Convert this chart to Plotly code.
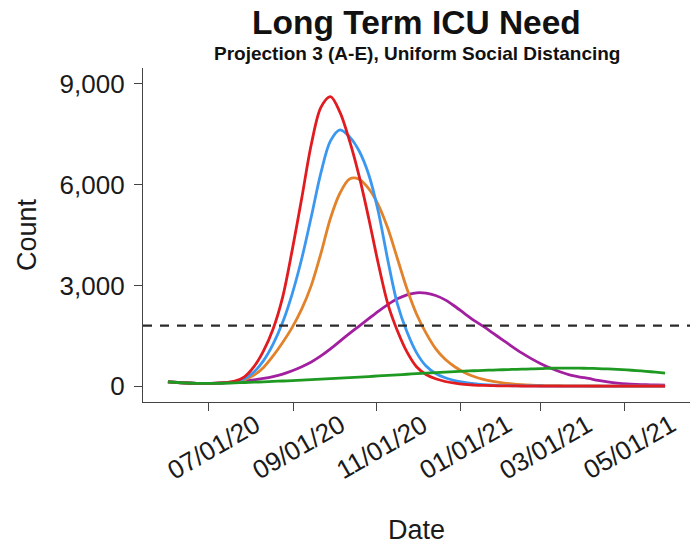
import pandas as pd
import plotly.graph_objects as go

# Weekly projection dates (Mondays), June 2020 to end of May 2021
dates = pd.date_range("2020-06-01", periods=53, freq="7D")

proj_a = [130, 110, 95, 85, 82, 88, 105, 150, 280, 580, 1050, 1700, 2650, 4050,
          5600, 7200, 8300, 8620, 8150, 7300, 6250, 5000, 3650, 2450, 1650, 1020,
          580, 350, 220, 140, 90, 55, 35, 22, 15, 10, 8, 6, 5, 4, 3, 3, 2, 2, 2,
          2, 2, 1, 1, 1, 1, 1, 1]
proj_b = [130, 110, 95, 85, 82, 86, 100, 130, 220, 420, 760, 1250, 1900, 2750,
          3800, 5050, 6350, 7300, 7630, 7420, 7000, 6300, 5200, 3750, 2450, 1620,
          1000, 600, 380, 250, 165, 115, 75, 48, 30, 20, 14, 10, 8, 6, 5, 4, 4, 3,
          3, 3, 2, 2, 2, 2, 2, 2, 2]
proj_c = [130, 110, 95, 85, 82, 85, 95, 120, 190, 330, 560, 900, 1300, 1750,
          2300, 3000, 3950, 5000, 5750, 6170, 6160, 5880, 5400, 4700, 3800, 2900,
          2150, 1580, 1120, 800, 580, 410, 290, 205, 145, 100, 68, 46, 32, 23, 17,
          13, 10, 8, 7, 6, 5, 4, 4, 3, 3, 3, 3]
proj_d = [130, 110, 95, 87, 85, 92, 105, 125, 155, 190, 230, 285, 360, 460, 580,
          720, 900, 1110, 1340, 1570, 1790, 2010, 2230, 2430, 2600, 2720, 2780,
          2770, 2700, 2570, 2380, 2170, 1960, 1780, 1580, 1380, 1180, 990, 820,
          670, 540, 430, 340, 280, 230, 175, 130, 95, 70, 55, 45, 38, 32]
proj_e = [130, 110, 95, 85, 82, 85, 92, 100, 110, 120, 130, 142, 155, 168, 182,
          196, 210, 225, 240, 256, 272, 288, 305, 322, 339, 356, 373, 390, 406,
          421, 435, 448, 460, 471, 481, 490, 498, 506, 514, 521, 535, 540, 540,
          537, 532, 524, 513, 500, 484, 465, 443, 418, 392]

icu_capacity = 1800

tick_dates = ["2020-07-01", "2020-09-01", "2020-11-01", "2021-01-01",
              "2021-03-01", "2021-05-01"]
tick_labels = ["07/01/20", "09/01/20", "11/01/20", "01/01/21", "03/01/21",
               "05/01/21"]
y_ticks = [0, 3000, 6000, 9000]

FONT = "Arial, Liberation Sans, Helvetica, sans-serif"

# draw order: purple, orange, blue, red, green on top
series = [
    ("D", proj_d, "#A21FA0"),
    ("C", proj_c, "#E2832B"),
    ("B", proj_b, "#3B98F0"),
    ("A", proj_a, "#E11B1F"),
    ("E", proj_e, "#1E9A22"),
]

fig = go.Figure()
for name, vals, color in series:
    fig.add_trace(go.Scatter(
        x=dates, y=vals, mode="lines", name=name,
        line=dict(color=color, width=2.8, shape="spline", smoothing=0.9),
        showlegend=False, hoverinfo="skip",
    ))

fig.add_shape(type="line", xref="paper", x0=0, x1=1, yref="y",
              y0=icu_capacity, y1=icu_capacity,
              line=dict(color="#2b2b2b", width=2.2, dash="9px,8px"))

x_start = pd.Timestamp("2020-06-01") - pd.Timedelta(hours=438)
x_end = pd.Timestamp("2021-05-31") + pd.Timedelta(hours=438)

fig.update_layout(
    width=691, height=547,
    margin=dict(l=143, r=1, t=68, b=145),
    paper_bgcolor="white", plot_bgcolor="white",
    font=dict(family=FONT, color="#1a1a1a"),
    xaxis=dict(
        type="date", range=[x_start, x_end],
        tickvals=tick_dates, showticklabels=False,
        ticks="outside", ticklen=8, tickwidth=1.2, tickcolor="#444",
        showline=True, linecolor="#444", linewidth=1.2,
        showgrid=False, zeroline=False,
    ),
    yaxis=dict(
        range=[-470, 9470],
        tickvals=y_ticks, tickformat=",",
        ticks="outside", ticklen=8, tickwidth=1.2, tickcolor="#444",
        tickfont=dict(size=26, color="#1a1a1a"), ticklabelstandoff=4,
        showline=True, linecolor="#444", linewidth=1.2,
        showgrid=False, zeroline=False,
    ),
)

annotations = [
    dict(text="<b>Long Term ICU Need</b>", xref="paper", yref="paper",
         x=0.5, y=1, xanchor="center", yanchor="middle", yshift=46,
         showarrow=False, font=dict(size=33.5, color="#111")),
    dict(text="<b>Projection 3 (A-E), Uniform Social Distancing</b>",
         xref="paper", yref="paper", x=0.5, y=1, xanchor="center",
         yanchor="middle", yshift=15, showarrow=False,
         font=dict(size=19, color="#111")),
    dict(text="Count", xref="paper", yref="paper", x=0, y=0.5,
         xanchor="center", yanchor="middle", xshift=-116, textangle=-90,
         showarrow=False, font=dict(size=27, color="#1a1a1a")),
    dict(text="Date", xref="paper", yref="paper", x=0.5, y=0,
         xanchor="center", yanchor="middle", yshift=-128,
         showarrow=False, font=dict(size=27, color="#1a1a1a")),
]
for d, lab in zip(tick_dates, tick_labels):
    annotations.append(dict(
        text=lab, xref="x", yref="paper", x=d, y=0,
        xanchor="center", yanchor="middle", xshift=5, yshift=-45,
        textangle=-30, showarrow=False,
        font=dict(size=26, color="#1a1a1a"),
    ))
fig.update_layout(annotations=annotations)

fig.write_html("out.html")
